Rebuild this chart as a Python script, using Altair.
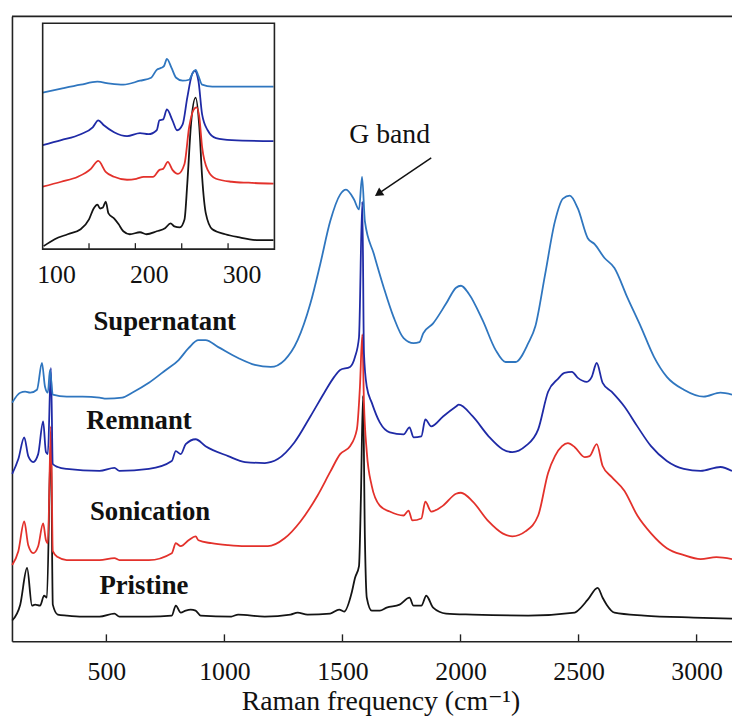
import altair as alt
import pandas as pd

# ---------------- main spectra: Raman shift (cm^-1) vs offset intensity (a.u.) ----------------
pristine_wn = [101, 135, 164, 185, 198, 219, 236, 248, 265, 273,
               294, 332, 399, 471, 534, 555, 680, 777, 794, 815,
               836, 857, 878, 899, 1029, 1058, 1171, 1280, 1310, 1352,
               1448, 1486, 1507, 1540, 1553, 1570, 1578, 1587, 1595, 1603,
               1624, 1658, 1687, 1742, 1784, 1801, 1834, 1855, 1884, 1939,
               2052, 2287, 2484, 2497, 2539, 2581, 2602, 2619, 2652, 2778,
               2987, 3150]
pristine_I = [21, 37, 74, 36, 37, 36, 46, 44, 204, 37,
              27, 26, 25, 25, 28, 25, 25, 26, 36, 29,
              31, 32, 31, 26, 25, 27, 25, 27, 29, 27,
              28, 32, 30, 50, 64, 76, 144, 248, 104, 44,
              31, 31, 34, 37, 44, 36, 36, 46, 34, 28,
              27, 26, 29, 31, 42, 54, 44, 37, 29, 26,
              24, 23]

sonication_wn = [101, 127, 152, 169, 190, 211, 232, 244, 252, 265,
                 273, 294, 332, 471, 534, 555, 680, 777, 794, 815,
                 848, 878, 890, 945, 1016, 1087, 1184, 1255, 1322, 1394,
                 1448, 1490, 1532, 1561, 1574, 1584, 1591, 1603, 1624, 1658,
                 1700, 1759, 1780, 1796, 1834, 1851, 1876, 1926, 1981, 2002,
                 2052, 2119, 2178, 2220, 2275, 2329, 2371, 2400, 2430, 2455,
                 2484, 2526, 2547, 2577, 2602, 2640, 2694, 2749, 2807, 2874,
                 2946, 3017, 3084, 3150]
sonication_I = [77, 91, 121, 97, 89, 96, 119, 102, 99, 217,
                91, 85, 82, 82, 84, 82, 82, 89, 99, 96,
                102, 106, 102, 99, 97, 96, 96, 104, 121, 147,
                171, 189, 197, 214, 257, 310, 241, 191, 157, 137,
                131, 127, 132, 122, 124, 141, 131, 137, 149, 150,
                141, 121, 109, 106, 111, 127, 170, 187, 197, 200,
                196, 186, 187, 199, 177, 166, 152, 127, 109, 94,
                87, 83, 85, 83]

remnant_wn = [101, 127, 152, 169, 190, 211, 232, 244, 252, 265,
              273, 294, 332, 471, 534, 555, 680, 777, 794, 815,
              836, 878, 920, 1016, 1087, 1171, 1226, 1297, 1364, 1423,
              1465, 1490, 1532, 1553, 1570, 1584, 1591, 1603, 1624, 1658,
              1700, 1759, 1784, 1801, 1834, 1851, 1876, 1926, 1981, 1993,
              2052, 2119, 2178, 2220, 2275, 2329, 2371, 2413, 2440, 2472,
              2497, 2535, 2556, 2577, 2602, 2640, 2694, 2749, 2807, 2874,
              2946, 3017, 3101, 3150]
remnant_I = [169, 184, 206, 187, 181, 189, 222, 191, 189, 276,
             179, 176, 174, 172, 175, 172, 174, 182, 192, 189,
             199, 204, 197, 187, 181, 180, 184, 201, 227, 251,
             267, 274, 277, 287, 307, 444, 291, 257, 241, 221,
             211, 209, 216, 206, 207, 224, 217, 227, 237, 239,
             227, 207, 194, 191, 197, 214, 252, 265, 271, 272,
             266, 262, 267, 281, 261, 252, 237, 217, 197, 182,
             174, 172, 176, 172]

supernatant_wn = [101, 135, 156, 177, 206, 227, 240, 252, 261, 273,
                  332, 399, 471, 500, 567, 609, 680, 752, 806, 848,
                  890, 920, 974, 1058, 1129, 1196, 1255, 1310, 1364, 1406,
                  1448, 1490, 1515, 1549, 1570, 1583, 1595, 1633, 1675, 1717,
                  1759, 1801, 1826, 1842, 1884, 1939, 1981, 2002, 2035, 2094,
                  2149, 2191, 2233, 2287, 2317, 2358, 2400, 2434, 2463, 2497,
                  2539, 2568, 2610, 2652, 2707, 2765, 2820, 2874, 2946, 3030,
                  3101, 3150]
supernatant_I = [241, 251, 252, 251, 254, 281, 257, 251, 274, 249,
                 247, 247, 246, 245, 246, 251, 261, 274, 284, 296,
                 304, 304, 297, 286, 279, 277, 284, 304, 341, 381,
                 424, 451, 456, 446, 436, 469, 424, 391, 357, 327,
                 306, 301, 302, 311, 321, 341, 357, 359, 351, 324,
                 294, 282, 282, 301, 318, 370, 424, 447, 450, 437,
                 407, 401, 387, 377, 347, 317, 287, 267, 254, 247,
                 251, 249]

# ---------------- inset (RBM region) ----------------
in_pristine_wn = [101, 113, 127, 141, 150, 155, 159, 162, 165, 168,
                  171, 177, 182, 187, 194, 205, 212, 223, 232, 238,
                  242, 248, 253, 256, 260, 265, 269, 272, 276, 283,
                  297, 311, 333, 349]
in_pristine_I = [3, 10, 15, 20, 30, 41, 45, 41, 42, 48,
                 36, 31, 25, 18, 15, 17, 15, 18, 21, 26,
                 23, 22, 30, 66, 126, 153, 123, 73, 36, 20,
                 15, 12, 9, 9]
in_sonication_wn = [100, 120, 138, 152, 160, 168, 177, 191, 201, 209,
                    219, 226, 230, 235, 240, 246, 253, 258, 263, 266,
                    269, 272, 278, 287, 304, 322, 349]
in_sonication_I = [63, 68, 73, 81, 89, 78, 73, 70, 71, 73,
                   73, 80, 81, 88, 80, 76, 86, 123, 141, 143,
                   133, 103, 80, 71, 68, 67, 66]
in_remnant_wn = [100, 120, 141, 154, 160, 166, 177, 191, 205, 214,
                 223, 226, 230, 234, 240, 245, 251, 256, 261, 264,
                 268, 272, 278, 287, 304, 349]
in_remnant_I = [105, 110, 116, 123, 130, 125, 118, 114, 117, 116,
                120, 130, 131, 141, 130, 120, 126, 153, 176, 180,
                170, 136, 120, 112, 110, 109]
in_supernatant_wn = [100, 120, 141, 159, 173, 187, 205, 217, 223, 228,
                     231, 234, 239, 244, 251, 258, 262, 265, 268, 272,
                     283, 304, 349]
in_supernatant_I = [158, 162, 166, 169, 167, 166, 170, 173, 181, 183,
                    185, 192, 183, 173, 170, 171, 178, 181, 175, 166,
                    164, 164, 164]

# ---------------- labels / ticks ----------------
series_names = ["Pristine", "Sonication", "Remnant", "Supernatant"]
series_colors = ["#141414", "#e3312b", "#1f2aa6", "#2f76bf"]
main_ticks = [500, 1000, 1500, 2000, 2500, 3000]
inset_ticks = [150, 200, 250, 300]
inset_tick_labels = [100, 200, 300]

label_text = ["Supernatant", "Remnant", "Sonication", "Pristine"]
label_wn = [747, 638, 685, 659]
label_I = [322, 222, 130, 56]

gband_text = ["G band"]
gband_wn = [1700]
gband_I = [511]
arrow_tail_wn, arrow_tail_I = [1876], [488]
arrow_tip_wn, arrow_tip_I = [1652], [452]

# ---------------- chart ----------------
SERIF = "Liberation Serif, 'Times New Roman', Times, 'DejaVu Serif', serif"
W, H = 727, 631
XMAIN = alt.Scale(domain=[100, 3150], nice=False, zero=False)
YMAIN = alt.Scale(domain=[0, 631], nice=False, zero=False)
XIN = alt.Scale(domain=[100, 350], range=[31, 265], nice=False, zero=False)
YIN = alt.Scale(domain=[0, 228], range=[235, 7], nice=False, zero=False)

xaxis = alt.Axis(values=main_ticks, format="d", ticks=False, labelFont=SERIF, labelFontSize=26,
                 labelColor="#111111", labelPadding=18, labelFlush=False,
                 domainColor="#222222", domainWidth=1.6, grid=False,
                 title="Raman frequency (cm\u207b\u00b9)", titleFont=SERIF,
                 titleFontSize=28, titleFontWeight="normal", titleColor="#111111",
                 titlePadding=3, titleX=372, titleAlign="center")
yaxis = alt.Axis(ticks=False, labels=False, title="", domainColor="#222222",
                 domainWidth=1.6, grid=False)


def mx(field):
    return alt.X(field, scale=XMAIN, axis=xaxis)


def my(field):
    return alt.Y(field, scale=YMAIN, axis=yaxis)


def ix(field):
    return alt.X(field, scale=XIN, axis=None)


def iy(field):
    return alt.Y(field, scale=YIN, axis=None)


main_data = [(pristine_wn, pristine_I), (sonication_wn, sonication_I),
             (remnant_wn, remnant_I), (supernatant_wn, supernatant_I)]
inset_data = [(in_pristine_wn, in_pristine_I), (in_sonication_wn, in_sonication_I),
              (in_remnant_wn, in_remnant_I), (in_supernatant_wn, in_supernatant_I)]

main_layers = []
for (wn, inten), color in zip(main_data, series_colors):
    df = pd.DataFrame({"wn": wn, "I": inten})
    main_layers.append(
        alt.Chart(df).mark_line(color=color, strokeWidth=1.8, interpolate="monotone")
        .encode(x=mx("wn:Q"), y=my("I:Q"))
    )

top_rule = alt.Chart(pd.DataFrame({"x0": [100], "x1": [3150], "y": [631]})).mark_rule(
    color="#222222", strokeWidth=1.8).encode(x=mx("x0:Q"), x2="x1:Q", y=my("y:Q"))

tick_rules = alt.Chart(pd.DataFrame({"t": main_ticks, "y0": [0] * 6, "y1": [7] * 6})).mark_rule(
    color="#222222", strokeWidth=1.4).encode(x=mx("t:Q"), y=my("y0:Q"), y2="y1:Q")

series_labels = alt.Chart(pd.DataFrame({"t": label_text, "wn": label_wn, "I": label_I})).mark_text(
    font=SERIF, fontSize=27, fontWeight="bold", color="#111111", align="center",
    baseline="middle").encode(x=mx("wn:Q"), y=my("I:Q"), text="t:N")

gband = alt.Chart(pd.DataFrame({"t": gband_text, "wn": gband_wn, "I": gband_I})).mark_text(
    font=SERIF, fontSize=28, color="#111111", align="center", baseline="middle").encode(
    x=mx("wn:Q"), y=my("I:Q"), text="t:N")

arrow_df = pd.DataFrame({"x0": arrow_tail_wn, "y0": arrow_tail_I,
                         "x1": arrow_tip_wn, "y1": arrow_tip_I})
arrow_line = alt.Chart(arrow_df).mark_rule(color="#111111", strokeWidth=1.5).encode(
    x=mx("x0:Q"), y=my("y0:Q"), x2="x1:Q", y2="y1:Q")
arrow_head = alt.Chart(arrow_df).mark_point(shape="triangle-up", filled=True, size=90,
                                            angle=236, color="#111111", opacity=1).encode(
    x=mx("x1:Q"), y=my("y1:Q"))

main = alt.layer(*main_layers, top_rule, tick_rules, series_labels, gband, arrow_line, arrow_head)

inset_layers = []
for (wn, inten), color in zip(inset_data, series_colors):
    df = pd.DataFrame({"wn": wn, "I": inten})
    inset_layers.append(
        alt.Chart(df).mark_line(color=color, strokeWidth=1.8, interpolate="monotone")
        .encode(x=ix("wn:Q"), y=iy("I:Q"))
    )

inset_frame = alt.Chart(pd.DataFrame({"x0": [100], "x1": [350], "y0": [0], "y1": [228]})).mark_rect(
    filled=False, color="#222222", strokeWidth=1.6).encode(
    x=ix("x0:Q"), x2="x1:Q", y=iy("y0:Q"), y2="y1:Q")

inset_tick_rules = alt.Chart(pd.DataFrame({"t": inset_ticks, "y0": [0] * 4, "y1": [6] * 4})).mark_rule(
    color="#222222", strokeWidth=1.3).encode(x=ix("t:Q"), y=iy("y0:Q"), y2="y1:Q")

inset_labels = alt.Chart(pd.DataFrame({"t": inset_tick_labels, "y": [0] * 3})).mark_text(
    font=SERIF, fontSize=26, color="#111111", align="center", baseline="middle",
    dx=14, dy=26).encode(x=ix("t:Q"), y=iy("y:Q"), text="t:N")

inset = alt.layer(*inset_layers, inset_frame, inset_tick_rules, inset_labels)

chart = alt.layer(main, inset).resolve_scale(x="independent", y="independent").properties(
    width=W, height=H,
    autosize=alt.AutoSizeParams(type="none"),
    padding={"left": 4, "top": 5, "right": 0, "bottom": 72},
).configure_view(stroke=None)

chart.save("out.html", embed_options={"renderer": "svg", "actions": False})
